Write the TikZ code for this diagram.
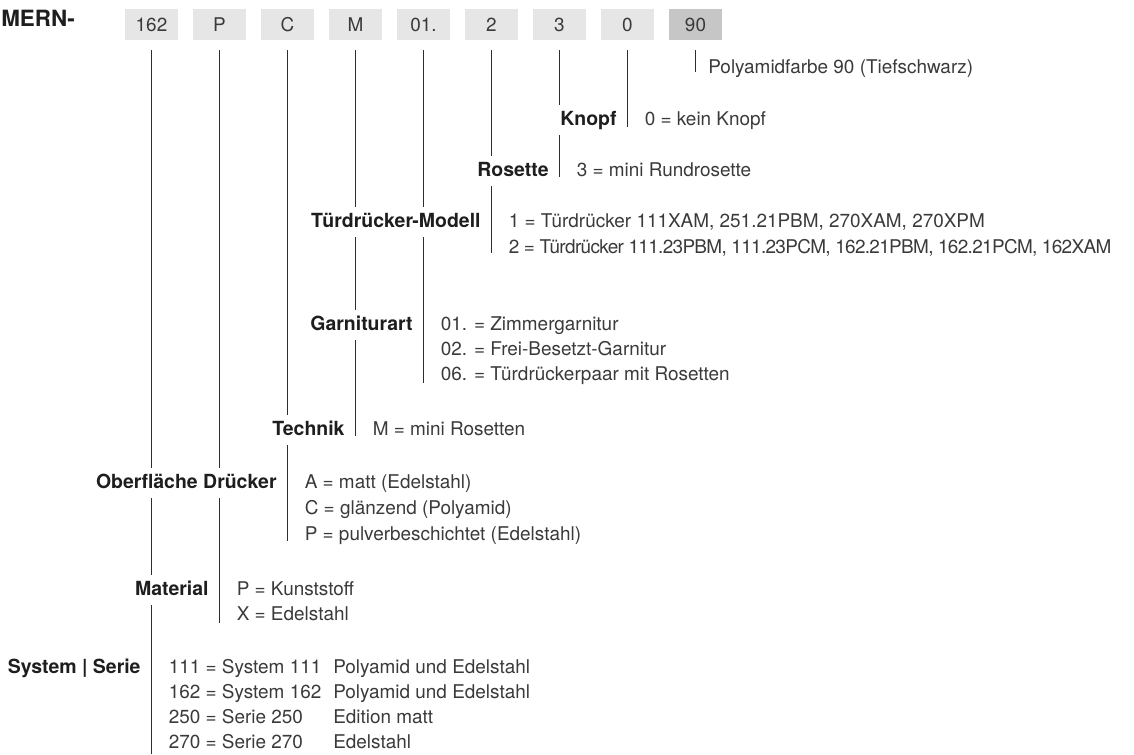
\documentclass[tikz,border=0pt]{standalone}
\usepackage{fontspec}
\setmainfont{TeX Gyre Heros}
\usepackage{tikz}
\usetikzlibrary{positioning,calc}

\definecolor{codefill}{HTML}{E6E6E6}
\definecolor{colourfill}{HTML}{C6C6C6}
\definecolor{valtext}{HTML}{3A3A3A}
\definecolor{lbltext}{HTML}{1E1E1E}
\definecolor{stemline}{HTML}{2E2E2E}

\begin{document}
\begin{tikzpicture}[x=0.75pt,y=-0.75pt,node distance=51pt,
  font=\fontsize{14.2}{19}\selectfont,
  code/.style={fill=codefill,text=valtext,minimum width=39.75pt,
               minimum height=23.25pt,inner sep=0pt},
  stem/.style={draw=stemline,line width=0.75pt,shorten <=7.5pt},
  lbl/.style={anchor=east,fill=white,text=lbltext,
              font=\fontsize{14.6}{19}\selectfont\bfseries,
              text height=10.5pt,text depth=3pt,inner xsep=4pt,inner ysep=4.5pt},
  val/.style={anchor=west,text=valtext,text height=10.5pt,text depth=3pt,
              inner sep=0pt}]

\useasboundingbox (0,0) rectangle (1134,754);

% the number
\node[lbl,fill=none,font=\fontsize{16.8}{19}\selectfont\bfseries,inner xsep=0pt] (head) at (75,21) {MERN-};
\node[code] (b162) at (151.5,24.5) {162};
\node[code] (bP)  [right of=b162] {P};
\node[code] (bC)  [right of=bP]   {C};
\node[code] (bM)  [right of=bC]   {M};
\node[code] (b01) [right of=bM]   {01.};
\node[code] (b2)  [right of=b01]  {2};
\node[code] (b3)  [right of=b2]   {3};
\node[code] (b0)  [right of=b3]   {0};
\node[code,fill=colourfill] (b90) [right of=b0] {90};

% where the stems end
\coordinate (e90)  at (b90 |- 0,72);
\coordinate (e0)   at (b0 |- 0,127);
\coordinate (e3)   at (b3 |- 0,177);
\coordinate (e2)   at (b2 |- 0,253);
\coordinate (e01)  at (b01 |- 0,383);
\coordinate (eM)   at (bM |- 0,436);
\coordinate (eC)   at (bC |- 0,541);
\coordinate (eP)   at (bP |- 0,623);
\coordinate (e162) at (b162 |- 0,754);

\draw[stem] (b90.south)  -- (e90);
\draw[stem] (b0.south)   -- (e0);
\draw[stem] (b3.south)   -- (e3);
\draw[stem] (b2.south)   -- (e2);
\draw[stem] (b01.south)  -- (e01);
\draw[stem] (bM.south)   -- (eM);
\draw[stem] (bC.south)   -- (eC);
\draw[stem] (bP.south)   -- (eP);
\draw[stem] (b162.south) -- (e162);

% Farbe
\node[val,xshift=9.4pt] (vFarbe) at (b90 |- 0,68) {Polyamidfarbe 90 (Tiefschwarz)};

% Knopf
\node[lbl,xshift=-4pt] (lKnopf) at (b0 |- 0,120) {Knopf};
\node[val,xshift=12.75pt] (vKnopf) at (b0 |- 0,120) {0 = kein Knopf};

% Rosette
\node[lbl,xshift=-4pt] (lRos) at (b3 |- 0,171) {Rosette};
\node[val,xshift=12.75pt] (vRos) at (b3 |- 0,171) {3 = mini Rundrosette};

% Modell
\node[lbl,xshift=-4pt] (lModell) at (b2 |- 0,222) {Türdrücker-Modell};
\node[val,xshift=12.75pt] (vModell1) at (b2 |- 0,222) {1 = Türdrücker 111XAM, 251.21PBM, 270XAM, 270XPM};
\node[val,xshift=12.75pt] (vModell2) at (b2 |- 0,248)
  {\addfontfeature{LetterSpace=-3.5}2 = Türdrücker 111.23PBM, 111.23PCM, 162.21PBM, 162.21PCM, 162XAM};

% Garniturart
\node[lbl,xshift=-4pt] (lGarn) at (b01 |- 0,325) {Garniturart};
\node[val,xshift=12.75pt] (vGarn1) at (b01 |- 0,325) {01. = Zimmergarnitur};
\node[val,xshift=12.75pt] (vGarn2) at (b01 |- 0,350) {02. = Frei-Besetzt-Garnitur};
\node[val,xshift=12.75pt] (vGarn3) at (b01 |- 0,375) {06. = Türdrückerpaar mit Rosetten};

% Technik
\node[lbl,xshift=-4pt] (lTech) at (bM |- 0,430) {Technik};
\node[val,xshift=12.75pt] (vTech) at (bM |- 0,430) {M = mini Rosetten};

% Oberflaeche
\node[lbl,xshift=-4pt] (lOber) at (bC |- 0,483) {Oberfläche Drücker};
\node[val,xshift=12.75pt] (vOber1) at (bC |- 0,483) {A = matt (Edelstahl)};
\node[val,xshift=12.75pt] (vOber2) at (bC |- 0,509) {C = glänzend (Polyamid)};
\node[val,xshift=12.75pt] (vOber3) at (bC |- 0,535) {P = pulverbeschichtet (Edelstahl)};

% Material
\node[lbl,xshift=-4pt] (lMat) at (bP |- 0,590) {Material};
\node[val,xshift=12.75pt] (vMat1) at (bP |- 0,590) {P = Kunststoff};
\node[val,xshift=12.75pt] (vMat2) at (bP |- 0,615) {X = Edelstahl};

% System
\node[lbl,xshift=-4pt] (lSys) at (b162 |- 0,668) {System | Serie};
\node[val,xshift=12.75pt] (vSys1) at (b162 |- 0,668) {111 = System 111};
\node[val,xshift=12.75pt] (vSys2) at (b162 |- 0,693) {162 = System 162};
\node[val,xshift=12.75pt] (vSys3) at (b162 |- 0,718) {250 = Serie 250};
\node[val,xshift=12.75pt] (vSys4) at (b162 |- 0,743) {270 = Serie 270};
\node[val] (wSys1) at (333,668) {Polyamid und Edelstahl};
\node[val] (wSys2) at (333,693) {Polyamid und Edelstahl};
\node[val] (wSys3) at (333,718) {Edition matt};
\node[val] (wSys4) at (333,743) {Edelstahl};

\end{tikzpicture}
\end{document}
